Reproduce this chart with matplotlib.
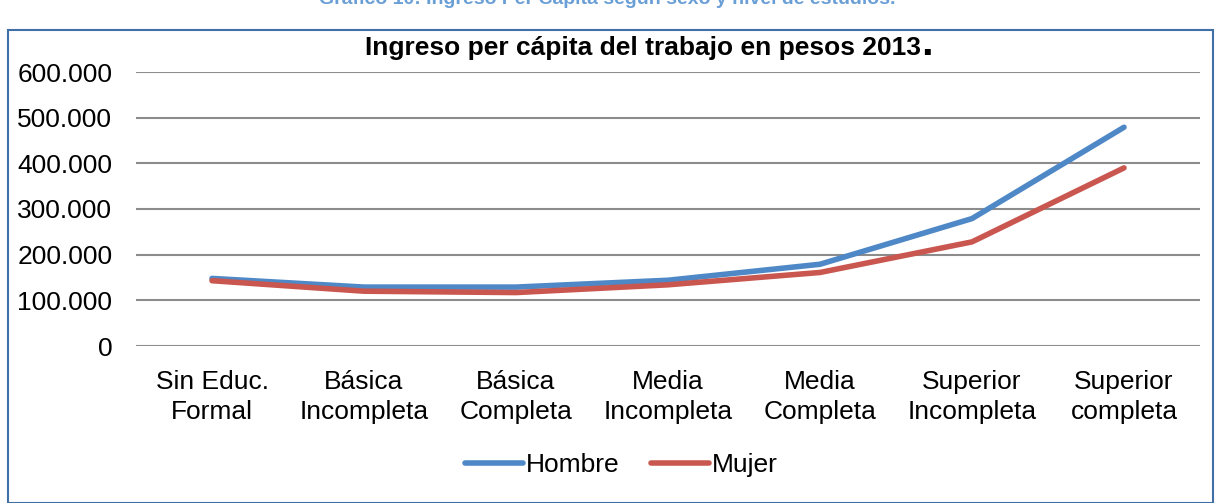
import matplotlib.pyplot as plt
from matplotlib.patches import Rectangle
from matplotlib.ticker import FuncFormatter

plt.rcParams['font.family'] = ['Liberation Sans', 'DejaVu Sans']

categorias = ['Sin Educ.\nFormal', 'Básica\nIncompleta', 'Básica\nCompleta', 'Media\nIncompleta',
              'Media\nCompleta', 'Superior\nIncompleta', 'Superior\ncompleta']
hombre = [148000, 129000, 129000, 144000, 179000, 279000, 479000]
mujer = [143000, 120000, 117000, 134000, 161000, 228000, 390000]

fig = plt.figure(figsize=(12.15, 5.03), dpi=100)

# marco azul del grafico
fig.patches.append(Rectangle((8 / 1215, 0), 1205 / 1215, 1 - 30 / 503, transform=fig.transFigure,
                             fill=False, edgecolor='#3f6fa6', linewidth=1.5))
fig.text(0.5, 1.0, 'Gráfico 10: Ingreso Per Cápita según sexo y nivel de estudios.',
         ha='center', va='center', color='#6a9fd6', fontsize=14, fontweight='bold')

ax = fig.add_axes([136 / 1215, 1 - 346 / 503, 1064 / 1215, 274 / 503])
x = range(len(categorias))
ax.plot(x, hombre, color='#4f88c6', lw=4, solid_capstyle='round', label='Hombre')
ax.plot(x, mujer, color='#c9574f', lw=4, solid_capstyle='round', label='Mujer')

ax.set_xlim(-0.5, len(categorias) - 0.5)
ax.set_ylim(0, 600000)
ax.set_yticks(range(0, 600001, 100000))
ax.yaxis.set_major_formatter(FuncFormatter(lambda v, p: '0' if v == 0 else f'{int(v):,}'.replace(',', '.')))
ax.set_xticks(list(x))
ax.set_xticklabels(categorias, fontsize=19, linespacing=1.35)
ax.tick_params(axis='y', labelsize=19, length=0, pad=17)
ax.tick_params(axis='x', length=0, pad=17)
ax.grid(axis='y', color='#8c8c8c', lw=1.5)
ax.set_axisbelow(True)
for s in ax.spines.values():
    s.set_visible(False)

fig.text(921 / 1215, 1 - 48 / 503, 'Ingreso per cápita del trabajo en pesos 2013', ha='right', va='center',
         fontsize=19, fontweight='bold')
fig.text(921 / 1215, 1 - 55 / 503, '.', ha='left', va='baseline', fontsize=30, fontweight='bold')
fig.legend(loc='center', bbox_to_anchor=(621 / 1215, 1 - 465 / 503), ncol=2, frameon=False, fontsize=19,
           handlelength=2.2, handletextpad=0.1, columnspacing=1.2)

fig.savefig('out.png', dpi=100)
